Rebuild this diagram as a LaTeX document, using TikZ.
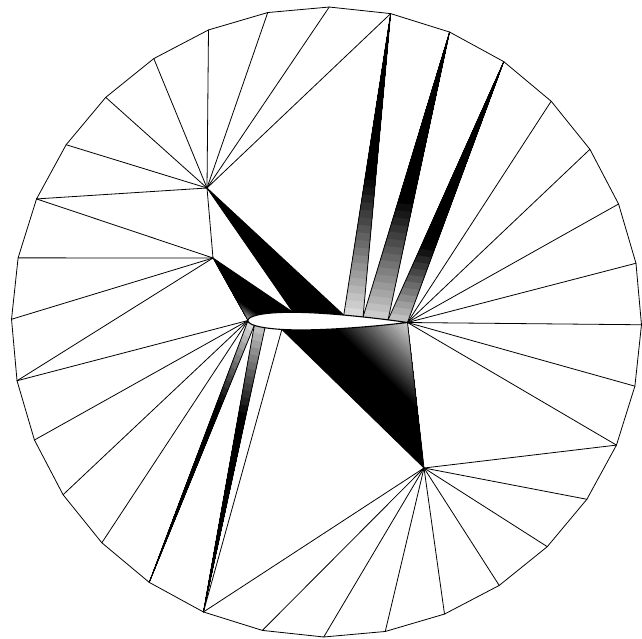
\documentclass[tikz,border=0pt]{standalone}
\usetikzlibrary{calc}
\tikzset{
  meshline/.style={line width=0.8pt, line join=round, line cap=round},
  foilline/.style={line width=1.1pt, line join=round},
  declare function={naca(\x)=0.2969*sqrt(\x)-0.1260*\x-0.3516*\x^2+0.2843*\x^3-0.1036*\x^4;}
}
% gradient triangle: apex, base1, base2, apex %black, base %black, ramp start, ramp end
\newcommand{\gradtri}[7]{%
  \foreach \gradI in {40,39,...,1}{%
    \pgfmathsetmacro{\gradT}{\gradI/40}%
    \pgfmathtruncatemacro{\gradP}{round(#4+(#5-#4)*min(max((\gradT-#6)/(#7-#6),0),1))}%
    \fill[black!\gradP] (#1) -- ($(#1)!\gradT!(#2)$) -- ($(#1)!\gradT!(#3)$) -- cycle;
  }}
\begin{document}
\begin{tikzpicture}[x=1pt,y=1pt]
\useasboundingbox[fill=white] (0,0) rectangle (642,-638);
% outer polygon vertices
\coordinate (O) at (326.5,-322);
\foreach \k in {0,...,31} \coordinate (b\k) at ($(O)+({-0.5+11.25*\k}:315)$);
% interior vertices
\coordinate (A) at (207,-188);
\coordinate (B) at (213,-258);
\coordinate (L) at (248,-320.5);
\coordinate (C) at (424,-468);
% airfoil surface vertices
\begin{scope}[shift={(L)}, rotate=-0.72]
  \coordinate (T) at (159.5,0);
  \coordinate (P) at ({159.5*0.282},{87.7*naca(0.282)});
  \coordinate (Q) at ({159.5*0.600},{87.7*naca(0.600)});
  \coordinate (R) at ({159.5*0.721},{87.7*naca(0.721)});
  \coordinate (S) at ({159.5*0.878},{87.7*naca(0.878)});
  \coordinate (M) at ({159.5*0.040},{-87.7*naca(0.040)});
  \coordinate (N) at ({159.5*0.107},{-87.7*naca(0.107)});
  \coordinate (W) at ({159.5*0.213},{-87.7*naca(0.213)});
\end{scope}
% shaded elements
\fill[black] (A) -- (P) -- (Q) -- cycle;
\gradtri{L}{B}{P}{30}{100}{0}{0.35}
\gradtri{b7}{Q}{R}{100}{15}{0.55}{1}
\gradtri{b6}{R}{S}{100}{20}{0.6}{1}
\gradtri{b5}{S}{T}{100}{25}{0.72}{1}
\gradtri{b21}{L}{M}{100}{15}{0.7}{1}
\gradtri{b22}{M}{N}{100}{25}{0.7}{1}
\gradtri{T}{W}{C}{15}{100}{0}{0.6}
% outer boundary
\draw[meshline] (b0) \foreach \k in {1,...,31}{ -- (b\k)} -- cycle;
% mesh edges
\foreach \u/\v in {A/b7,A/b8,A/b9,A/b10,A/b11,A/b12,A/b13,A/b14,A/B,A/P,A/Q,
  B/b14,B/b15,B/b16,B/b17,B/L,B/P,
  L/b17,L/b18,L/b19,L/b20,L/b21,
  M/b21,M/b22,N/b22,W/b22,W/C,
  C/b22,C/b23,C/b24,C/b25,C/b26,C/b27,C/b28,C/b29,C/b30,C/T,
  T/b30,T/b31,T/b0,T/b1,T/b2,T/b3,T/b4,T/b5,
  S/b5,S/b6,R/b6,R/b7,Q/b7}
  \draw[meshline] (\u) -- (\v);
% airfoil
\begin{scope}[shift={(L)}, rotate=-0.72]
  \draw[foilline, fill=white]
    plot[domain=0:1, samples=60, variable=\w] ({159.5*\w*\w},{87.7*naca(\w*\w)})
    -- plot[domain=1:0, samples=60, variable=\w] ({159.5*\w*\w},{-87.7*naca(\w*\w)})
    -- cycle;
\end{scope}
\end{tikzpicture}
\end{document}
